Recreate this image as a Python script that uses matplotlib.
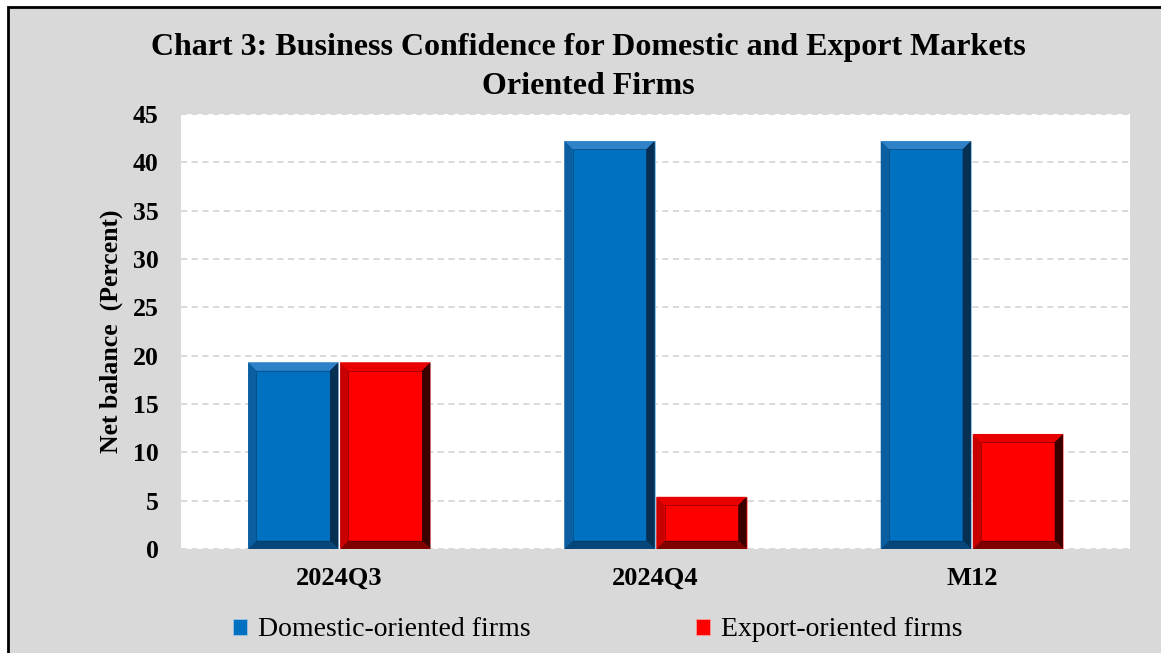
import numpy as np
import matplotlib
matplotlib.use('Agg')
import matplotlib.pyplot as plt
from matplotlib.patches import Polygon, Rectangle

# data
categories = ['2024Q3', '2024Q4', 'M12']
domestic = [19.3, 42.2, 42.2]
export = [19.3, 5.4, 11.9]
series_names = ['Domestic-oriented firms', 'Export-oriented firms']
y_ticks = [0, 5, 10, 15, 20, 25, 30, 35, 40, 45]

plt.rcParams['font.family'] = ['Liberation Serif', 'DejaVu Serif']

BG = '#d9d9d9'
blue = {'face': '#0070c0', 'top': '#2f82c8', 'left': '#0b5e9f', 'right': '#062f52', 'bottom': '#05477a'}
red = {'face': '#ff0000', 'top': '#e80000', 'left': '#c80000', 'right': '#3a0000', 'bottom': '#800000'}

fig = plt.figure(figsize=(11.61, 6.53), dpi=100)
fig.patch.set_facecolor('white')
# grey chart area with black frame
fig.patches.append(Rectangle((8 / 1161, -0.05), 1.2, 1 - 7 / 653 + 0.05, transform=fig.transFigure,
                             facecolor=BG, edgecolor='black', linewidth=2, zorder=-10))

ax = fig.add_axes([181 / 1161, 1 - 549 / 653, (1130 - 181) / 1161, (549 - 114) / 653])
ax.set_facecolor('white')

x = np.arange(len(categories))
w = 0.285


def bevel(ax, bars, c):
    # shaded bevel frame around each bar, built from the bar geometry
    for b in bars:
        x0, y0 = b.get_x(), b.get_y()
        x1, y1 = x0 + b.get_width(), y0 + b.get_height()
        dx, dy = 0.026, 0.85
        ix0, ix1, iy0, iy1 = x0 + dx, x1 - dx, y0 + dy, y1 - dy
        polys = [
            ([(x0, y1), (x1, y1), (ix1, iy1), (ix0, iy1)], c['top']),
            ([(x0, y0), (x0, y1), (ix0, iy1), (ix0, iy0)], c['left']),
            ([(x1, y0), (x1, y1), (ix1, iy1), (ix1, iy0)], c['right']),
            ([(x0, y0), (x1, y0), (ix1, iy0), (ix0, iy0)], c['bottom']),
        ]
        for pts, col in polys:
            ax.add_patch(Polygon(pts, closed=True, facecolor=col, edgecolor='none', zorder=3))
        ax.add_patch(Rectangle((ix0, iy0), ix1 - ix0, iy1 - iy0, facecolor='none',
                               edgecolor=c['right'], linewidth=0.6, alpha=0.5, zorder=4))


b1 = ax.bar(x - w / 2 - 0.003, domestic, w, color=blue['face'], edgecolor='#9fc3e0',
            linewidth=0.6, zorder=2, label=series_names[0])
b2 = ax.bar(x + w / 2 + 0.003, export, w, color=red['face'], edgecolor='#ff9a9a',
            linewidth=0.6, zorder=2, label=series_names[1])
bevel(ax, b1, blue)
bevel(ax, b2, red)

ax.set_xlim(-0.5, 2.5)
ax.set_ylim(0, 45)
ax.set_yticks(y_ticks)
ax.set_xticks(x)
ax.set_xticklabels(categories, fontsize=19, fontweight='bold')
ax.set_yticklabels([str(t) for t in y_ticks], fontsize=18.5, fontweight='bold')
ax.tick_params(axis='both', length=0)
ax.tick_params(axis='x', pad=13)
ax.tick_params(axis='y', pad=16)
ax.yaxis.grid(True, color='#d0d0d0', linestyle=(0, (4, 3)), linewidth=1.1, zorder=1)
ax.set_axisbelow(True)
for s in ax.spines.values():
    s.set_visible(False)

ax.set_ylabel('Net balance  (Percent)', fontsize=18.5, fontweight='bold')
ax.yaxis.set_label_coords(-0.061, 0.5)

fig.text(0.5065, 1 - 48 / 653, 'Chart 3: Business Confidence for Domestic and Export Markets',
         ha='center', va='center', fontsize=23, fontweight='bold')
fig.text(0.5065, 1 - 86 / 653, 'Oriented Firms',
         ha='center', va='center', fontsize=23, fontweight='bold')

leg = fig.legend(handles=[b1, b2], labels=series_names, loc='center', bbox_to_anchor=(0.515, 1 - 630 / 653),
                 ncol=2, frameon=False, fontsize=20, handlelength=0.5, handleheight=0.5,
                 handletextpad=0.4, columnspacing=5.95)

fig.savefig('out.png', dpi=100, facecolor=fig.get_facecolor())
